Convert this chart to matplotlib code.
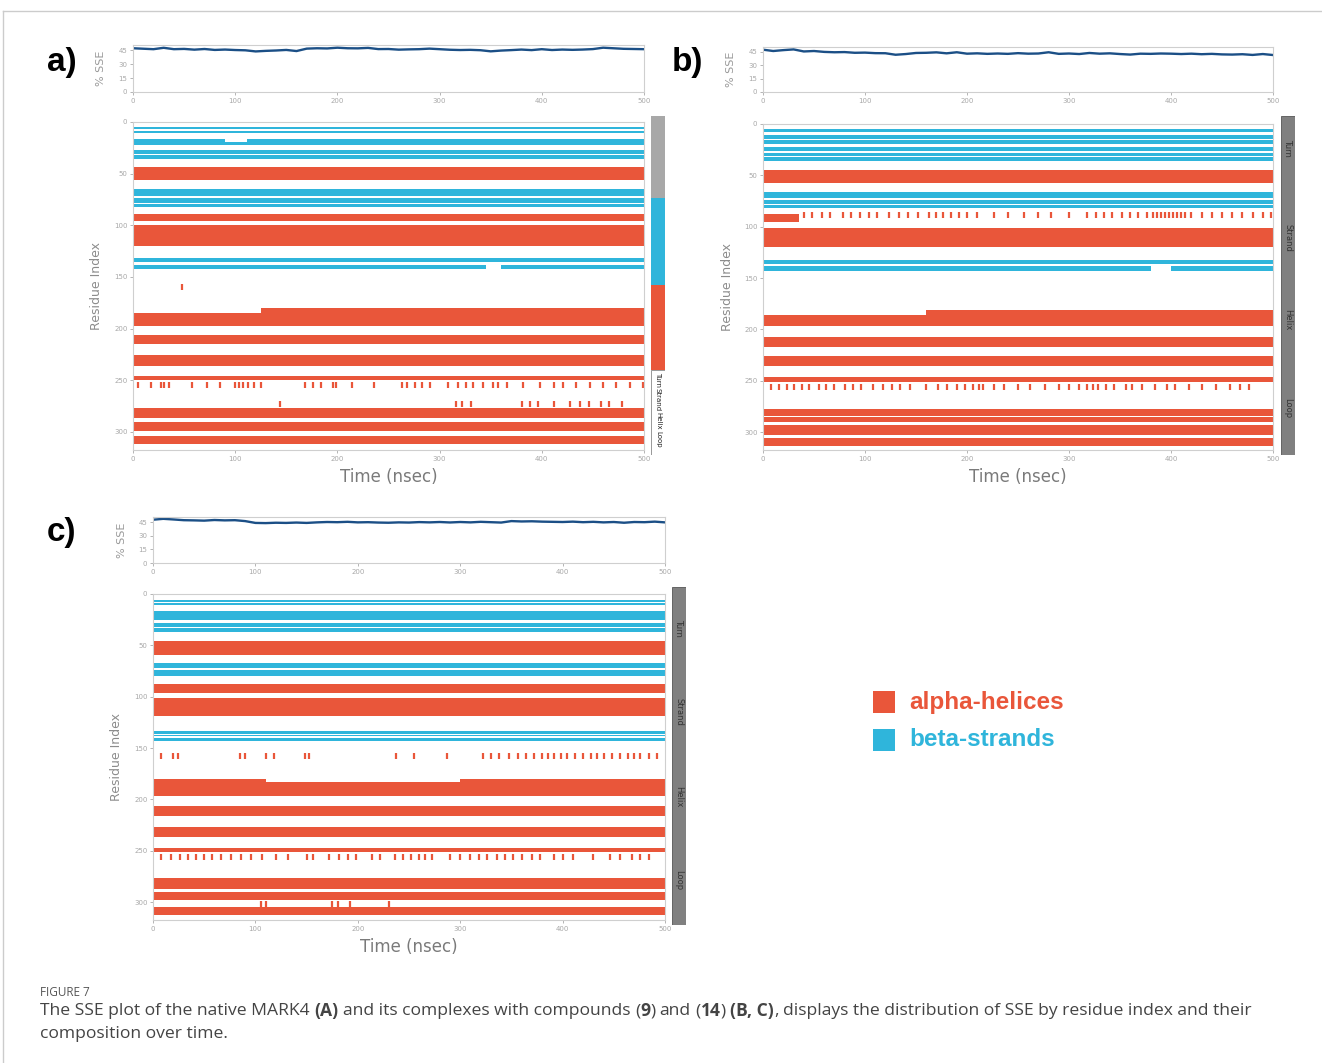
import matplotlib
matplotlib.use("Agg")
import matplotlib.pyplot as plt
from matplotlib.lines import Line2D
from matplotlib.patches import Rectangle

W, H = 1322, 1063
RED = "#E9563A"
BLUE = "#2FB5DB"
LINE = "#1B4F86"
TICK = "#A8A8A8"
SPINE = "#CFCFCF"

# ---------------- data ----------------
time_ticks = [0, 100, 200, 300, 400, 500]
sse_ticks = [0, 15, 30, 45]
res_ticks = [0, 50, 100, 150, 200, 250, 300]
side_labels = ["Turn", "Strand", "Helix", "Loop"]

sse_time = [0, 10, 20, 30, 40, 50, 60, 70, 80, 90, 100, 110, 120, 130, 140, 150,
            160, 170, 180, 190, 200, 210, 220, 230, 240, 250, 260, 270, 280, 290,
            300, 310, 320, 330, 340, 350, 360, 370, 380, 390, 400, 410, 420, 430,
            440, 450, 460, 470, 480, 490, 500]
sse_a = [47, 46.5, 46, 47.5, 46, 46.3, 45.5, 46.2, 45.2, 45.6, 45.1, 44.8, 43.6, 44.2,
         44.6, 45.2, 44.0, 46.6, 47.0, 46.8, 47.6, 47.0, 46.9, 47.4, 46.1, 46.2, 45.5,
         45.8, 46.0, 46.6, 46.0, 45.4, 45.1, 45.3, 44.9, 43.7, 44.5, 45.0, 45.6, 45.0,
         46.0, 45.1, 45.6, 45.3, 45.6, 46.1, 47.6, 47.0, 46.4, 46.2, 46.0]
sse_b = [47.5, 46.0, 47.0, 47.8, 45.5, 46.0, 45.0, 44.6, 44.8, 44.0, 44.2, 43.6, 43.5,
         41.8, 42.6, 43.8, 44.0, 44.5, 43.4, 44.6, 43.0, 43.4, 42.8, 43.2, 42.8, 43.6,
         43.0, 43.2, 44.6, 42.8, 43.2, 42.6, 43.8, 43.0, 43.4, 42.6, 42.0, 43.0, 42.8,
         43.2, 43.0, 42.6, 43.0, 42.4, 42.8, 42.2, 42.0, 42.4, 41.6, 42.6, 41.5]
sse_c = [47.5, 48.5, 47.8, 47.0, 46.8, 46.5, 47.2, 46.8, 47.0, 46.0, 44.0, 43.8, 44.2,
         44.0, 44.4, 44.0, 44.6, 45.0, 44.8, 45.2, 44.6, 44.8, 44.4, 44.2, 44.6, 44.4,
         44.9, 44.6, 45.0, 44.5, 45.0, 44.6, 45.2, 44.8, 44.4, 46.0, 45.6, 45.8, 45.4,
         45.2, 45.0, 45.4, 44.8, 45.2, 44.6, 45.0, 44.2, 45.0, 44.8, 45.4, 44.6]

# secondary-structure segments: (t_start, t_end, residue_start, residue_end)
helix_a = [(0, 500, 44, 56), (0, 500, 89, 96), (0, 500, 100, 120),
           (0, 125, 185, 197), (125, 500, 180, 197), (0, 500, 206, 215),
           (0, 500, 226, 236), (0, 500, 246, 250), (0, 500, 277, 287),
           (0, 500, 290, 299), (0, 500, 304, 312)]
strand_a = [(0, 500, 5, 7), (0, 500, 8.5, 11), (0, 90, 16, 22), (90, 112, 19, 22),
            (112, 500, 16, 22), (0, 500, 27, 31), (0, 500, 32, 36),
            (0, 500, 65, 72), (0, 500, 74, 78), (0, 500, 79, 82),
            (0, 500, 132, 136), (0, 345, 138, 142), (360, 500, 138, 142)]
dots_a_255 = [5, 18, 27, 30, 35, 58, 72, 85, 100, 104, 108, 113, 118, 125, 168, 176,
              184, 196, 199, 214, 236, 263, 268, 276, 283, 291, 308, 318, 326, 333,
              342, 352, 357, 366, 382, 398, 412, 421, 433, 447, 460, 473, 486, 499]
dots_a_273 = [144, 316, 322, 331, 381, 388, 396, 412, 428, 437, 446, 458, 466, 478]

helix_b = [(0, 500, 45, 57), (0, 35, 88, 95), (0, 500, 101, 120),
           (0, 160, 186, 197), (160, 500, 181, 197), (0, 500, 207, 217),
           (0, 500, 226, 236), (0, 500, 246, 251), (0, 500, 278, 284),
           (0, 500, 285.5, 290), (0, 500, 293, 303), (0, 500, 306, 314)]
strand_b = [(0, 500, 5, 8), (0, 500, 11, 15), (0, 500, 16, 19), (0, 500, 22, 26),
            (0, 500, 28, 31), (0, 500, 32, 36), (0, 500, 66, 72), (0, 500, 74, 78),
            (0, 500, 79, 82), (0, 500, 132, 136), (0, 380, 138, 143),
            (400, 500, 138, 143)]
dots_b_89 = [40, 48, 58, 66, 78, 86, 95, 104, 112, 124, 133, 142, 152, 163, 170, 176,
             184, 192, 200, 210, 226, 240, 256, 270, 282, 300, 318, 326, 334, 342,
             352, 360, 368, 376, 382, 386, 390, 394, 398, 402, 406, 410, 414, 420,
             430, 440, 450, 460, 470, 480, 490, 498]
dots_b_256 = [8, 16, 24, 30, 38, 45, 55, 62, 70, 80, 88, 96, 108, 118, 126, 134, 144,
              160, 172, 180, 190, 198, 206, 212, 216, 226, 236, 250, 262, 276, 290,
              300, 310, 318, 324, 328, 336, 344, 356, 362, 372, 384, 396, 404, 418,
              430, 444, 458, 468, 476]

helix_c = [(0, 500, 46, 59), (0, 500, 88, 96), (0, 500, 101, 119),
           (0, 110, 180, 197), (110, 300, 183, 197), (300, 500, 180, 197),
           (0, 500, 206, 216), (0, 500, 227, 237), (0, 500, 247, 251),
           (0, 500, 277, 287), (0, 500, 290, 298), (0, 500, 305, 313)]
strand_c = [(0, 500, 6, 8), (0, 500, 9, 11), (0, 500, 17, 25), (0, 500, 28, 32),
            (0, 500, 33, 37), (0, 500, 67, 72), (0, 500, 74, 80),
            (0, 500, 133, 136), (0, 500, 137.5, 138.5), (0, 500, 140, 143)]
dots_c_158 = [8, 20, 24, 85, 90, 110, 118, 148, 152, 237, 255, 287, 322, 330, 338,
              348, 356, 364, 372, 380, 386, 392, 398, 404, 412, 420, 428, 434, 440,
              448, 456, 464, 470, 476, 484, 492]
dots_c_256 = [8, 18, 26, 34, 42, 50, 58, 66, 76, 86, 96, 106, 120, 132, 150, 156,
              172, 182, 190, 198, 214, 222, 236, 244, 252, 260, 266, 272, 290, 300,
              310, 318, 326, 336, 344, 352, 360, 370, 378, 392, 400, 410, 430, 446,
              456, 468, 476, 484]
dots_c_302 = [105, 110, 175, 181, 192, 230]

fig = plt.figure(figsize=(W / 100, H / 100), dpi=100)
fig.patch.set_facecolor("white")
renderer = fig.canvas.get_renderer()


def px_axes(x0, y0, x1, y1):
    return fig.add_axes([x0 / W, 1 - y1 / H, (x1 - x0) / W, (y1 - y0) / H])


def style_axes(ax):
    for s in ax.spines.values():
        s.set_color(SPINE)
        s.set_linewidth(0.8)
    ax.tick_params(colors=TICK, labelsize=5, length=2, width=0.6, pad=2)


def top_panel(box, values, ylab_x):
    ax = px_axes(*box)
    ax.plot(sse_time, values, color=LINE, lw=1.7)
    ax.set_xlim(0, 500)
    ax.set_ylim(0, 50.5)
    ax.set_xticks(time_ticks)
    ax.set_yticks(sse_ticks)
    style_axes(ax)
    fig.text(ylab_x / W, 1 - ((box[1] + box[3]) / 2) / H, "% SSE", rotation=90,
             ha="center", va="center", fontsize=8, color="#9A9A9A")
    return ax


def main_panel(box, helix, strand, dots, ylab_x, xlab_y):
    ax = px_axes(*box)
    for t0, t1, r0, r1 in helix:
        ax.broken_barh([(t0, t1 - t0)], (r0, r1 - r0), facecolors=RED, edgecolor="none")
    for t0, t1, r0, r1 in strand:
        ax.broken_barh([(t0, t1 - t0)], (r0, r1 - r0), facecolors=BLUE, edgecolor="none")
    for res, times in dots:
        ax.scatter(times, [res] * len(times), marker="|", s=14, color=RED,
                   linewidths=1.6)
    ax.set_xlim(0, 500)
    ax.set_ylim(317.5, 0)
    ax.set_xticks(time_ticks)
    ax.set_yticks(res_ticks)
    style_axes(ax)
    fig.text(ylab_x / W, 1 - ((box[1] + box[3]) / 2) / H, "Residue Index", rotation=90,
             ha="center", va="center", fontsize=9, color="#8C8C8C")
    fig.text(((box[0] + box[2]) / 2) / W, 1 - xlab_y / H, "Time (nsec)",
             ha="center", va="center", fontsize=12, color="#7A7A7A")
    return ax


def side_bar_gray(box, label_ys):
    ax = px_axes(*box)
    ax.set_xlim(0, 1)
    ax.set_ylim(1, 0)
    ax.add_patch(Rectangle((0, 0), 1, 1, facecolor="#808080", edgecolor="#555555", lw=0.6))
    ax.axis("off")
    for lab, yy in zip(side_labels, label_ys):
        fig.text(((box[0] + box[2]) / 2) / W, 1 - yy / H, lab, rotation=270,
                 ha="center", va="center", fontsize=6, color="#333333")


def side_bar_a(box):
    ax = px_axes(*box)
    ax.set_xlim(0, 1)
    ax.set_ylim(1, 0)
    ax.axis("off")
    segs = [(0.0, 0.242, "#A8A8A8"), (0.242, 0.498, BLUE), (0.498, 0.749, RED)]
    for y0, y1, c in segs:
        ax.add_patch(Rectangle((0, y0), 1, y1 - y0, facecolor=c, edgecolor="none"))
    ax.add_patch(Rectangle((0, 0.749), 1, 0.251, facecolor="white", edgecolor="#888888", lw=0.6))
    xc = ((box[0] + box[2]) / 2) / W
    y = 372.0
    for lab in side_labels:
        t = fig.text(xc, 1 - y / H, lab, rotation=270, ha="center", va="top",
                     fontsize=5, color="#222222")
        y += t.get_window_extent(renderer).height + 1


# ---- panel a ----
top_panel((133, 45, 644, 92), sse_a, 101)
main_panel((133, 122, 644, 450), helix_a, strand_a,
           [(255, dots_a_255), (273, dots_a_273), (160, [48])], 96, 477)
side_bar_a((651, 116, 665, 455))
fig.text(62 / W, 1 - 62 / H, "a)", ha="center", va="center", fontsize=24,
         fontweight="bold", family="Liberation Sans")

# ---- panel b ----
top_panel((763, 47, 1273, 92), sse_b, 731)
main_panel((763, 124, 1273, 450), helix_b, strand_b,
           [(89, dots_b_89), (256, dots_b_256)], 727, 477)
side_bar_gray((1281, 116, 1295, 455), [148, 238, 320, 408])
fig.text(687 / W, 1 - 62 / H, "b)", ha="center", va="center", fontsize=24,
         fontweight="bold", family="Liberation Sans")

# ---- panel c ----
top_panel((153, 517, 665, 563), sse_c, 122)
main_panel((153, 594, 665, 920), helix_c, strand_c,
           [(158, dots_c_158), (256, dots_c_256), (302, dots_c_302)], 117, 947)
side_bar_gray((672, 587, 686, 925), [628, 712, 797, 880])
fig.text(62 / W, 1 - 533 / H, "c)", ha="center", va="center", fontsize=24,
         fontweight="bold", family="Liberation Sans")

# ---- legend ----
leg = [("alpha-helices", RED, 702), ("beta-strands", BLUE, 740)]
for lab, col, yy in leg:
    fig.patches.append(Rectangle((873 / W, 1 - (yy + 11) / H), 22 / W, 22 / H,
                                 transform=fig.transFigure, facecolor=col,
                                 edgecolor="none"))
    fig.text(909 / W, 1 - yy / H, lab, ha="left", va="center", fontsize=17.5,
             fontweight="bold", color=col, family="Liberation Sans")

# ---- frame lines ----
fig.add_artist(Line2D([3 / W, 1], [1 - 11 / H, 1 - 11 / H], transform=fig.transFigure,
                      color="#CCCCCC", lw=1))
fig.add_artist(Line2D([3 / W, 3 / W], [0, 1 - 11 / H], transform=fig.transFigure,
                      color="#CCCCCC", lw=1))

# ---- caption ----
fig.text(40 / W, 1 - 992 / H, "FIGURE 7", ha="left", va="center", fontsize=8.5,
         color="#555555", family="Open Sans")

CAP_SIZE = 12.6
CAP_COLOR = "#444444"


def width_of(s, bold):
    t = fig.text(0, 0, s, fontsize=CAP_SIZE, family="Open Sans",
                 fontweight="bold" if bold else "normal")
    w = t.get_window_extent(renderer).width
    t.remove()
    return w


space_w = width_of("a a", False) - width_of("aa", False)


def rich_line(x_px, y_px, parts):
    x = x_px
    for txt, bold, sp in parts:
        if sp:
            x += space_w
        t = fig.text(x / W, 1 - y_px / H, txt, fontsize=CAP_SIZE, family="Open Sans",
                     fontweight="bold" if bold else "normal", color=CAP_COLOR,
                     ha="left", va="center")
        x += t.get_window_extent(renderer).width


rich_line(40, 1011, [
    ("The SSE plot of the native MARK4", False, False), ("(A)", True, True),
    ("and its complexes with compounds", False, True), ("(", False, True),
    ("9", True, False), (")", False, False), ("and", False, True),
    ("(", False, True), ("14", True, False), (")", False, False),
    ("(B, C)", True, True), (",", False, False),
    ("displays the distribution of SSE by residue index and their", False, True)])
rich_line(40, 1034, [("composition over time.", False, False)])

fig.savefig("out.png", dpi=100, facecolor="white")
